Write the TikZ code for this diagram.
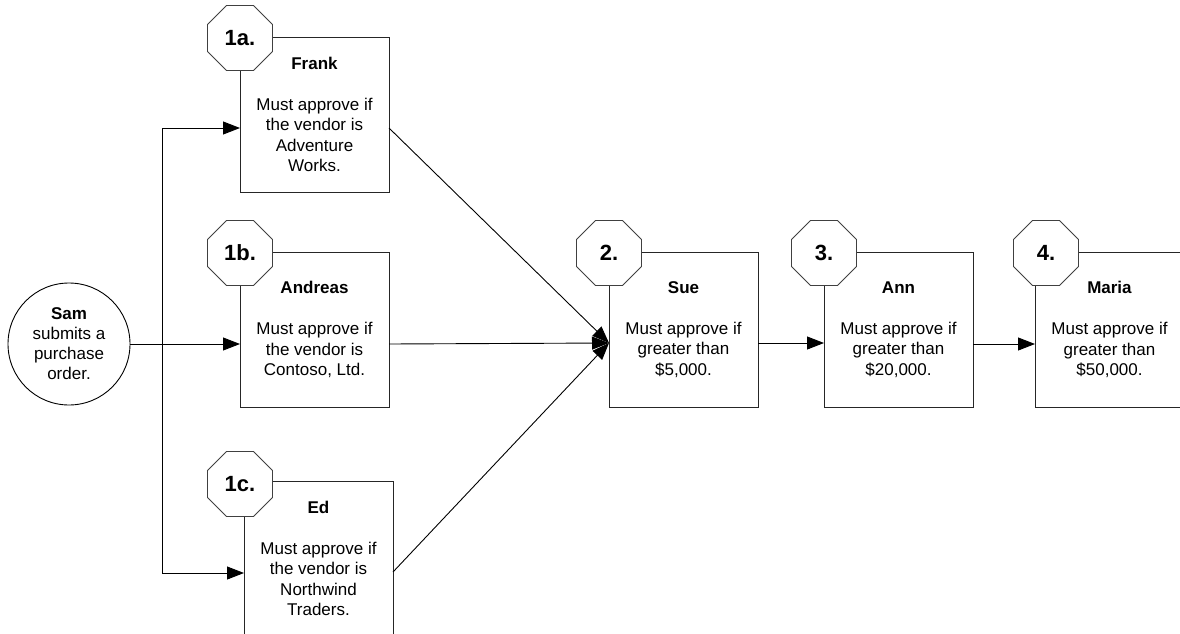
\documentclass[tikz,border=0pt]{standalone}
\usepackage{fontspec}
\setmainfont{Liberation Sans}
\usetikzlibrary{shapes.geometric,arrows.meta,calc}
\begin{document}
\begin{tikzpicture}[x=1pt,y=-1pt,
  every node/.style={inner sep=0pt, outer sep=0pt},
  task/.style={draw=black!85, line width=0.9pt, fill=white, rectangle,
    minimum width=149pt, minimum height=155pt, anchor=north west,
    align=center, font=\fontsize{17}{20.5}\selectfont},
  badge/.style={draw=black!75, line width=0.9pt, fill=white,
    regular polygon, regular polygon sides=8, minimum size=70.4pt,
    font=\fontsize{22}{24}\selectfont\bfseries},
  start/.style={draw, circle, line width=0.9pt, minimum size=122pt,
    align=center, font=\fontsize{17}{20}\selectfont},
  link/.style={line width=0.9pt},
  flow/.style={link, -{Triangle[length=17pt,width=13pt]}}
]
\useasboundingbox (0,0) rectangle (1180,634);
\clip (0,0) rectangle (1180,634);

% originator
\node[start] (sam) at (69,344)
  {\textbf{Sam}\\submits a\\purchase\\order.};

% approvers
\node[task] (frank) at (240,37)
  {\textbf{Frank}\\[20.5pt]Must approve if\\the vendor is\\Adventure\\Works.};
\node[task] (andreas) at (240,252)
  {\textbf{Andreas}\\[20.5pt]Must approve if\\the vendor is\\Contoso, Ltd.};
\node[task] (ed) at (244,481)
  {\textbf{Ed}\\[20.5pt]Must approve if\\the vendor is\\Northwind\\Traders.};
\node[task] (sue) at (609,252)
  {\textbf{Sue}\\[20.5pt]Must approve if\\greater than\\\$5,000.};
\node[task] (ann) at (824,252)
  {\textbf{Ann}\\[20.5pt]Must approve if\\greater than\\\$20,000.};
\node[task] (maria) at (1035,252)
  {\textbf{Maria}\\[20.5pt]Must approve if\\greater than\\\$50,000.};

% connection points on the boxes
\coordinate (split) at (162,344);
\coordinate (frank in)    at ($(frank.north west)+(0,91)$);
\coordinate (frank out)   at ($(frank.north east)+(0,91)$);
\coordinate (andreas in)  at ($(andreas.north west)+(0,92)$);
\coordinate (andreas out) at ($(andreas.north east)+(0,92)$);
\coordinate (ed in)       at ($(ed.north west)+(0,92)$);
\coordinate (ed out)      at ($(ed.north east)+(0,91)$);
\coordinate (sue in)      at ($(sue.north west)+(0,91)$);
\coordinate (sue out)     at ($(sue.north east)+(0,91)$);
\coordinate (ann in)      at ($(ann.north west)+(0,91)$);
\coordinate (ann out)     at ($(ann.north east)+(0,92)$);
\coordinate (maria in)    at ($(maria.north west)+(0,92)$);

% routing
\draw[link] (sam.east) -- (split);
\draw[flow] (split) -- (andreas in);
\draw[flow] (split) |- (frank in);
\draw[flow] (split) |- (ed in);
\draw[flow] (frank out) -- (sue in);
\draw[flow] (andreas out) -- (sue in);
\draw[flow] (ed out) -- (sue in);
\draw[flow] (sue out) -- (ann in);
\draw[flow] (ann out) -- (maria in);

% step numbers
\node[badge] (b1a) at (240,38)  {1a.};
\node[badge] (b1b) at (240,253) {1b.};
\node[badge] (b1c) at (240,484) {1c.};
\node[badge] (b2)  at (609,253) {2.};
\node[badge] (b3)  at (824,253) {3.};
\node[badge] (b4)  at (1046,253) {4.};
\end{tikzpicture}
\end{document}
